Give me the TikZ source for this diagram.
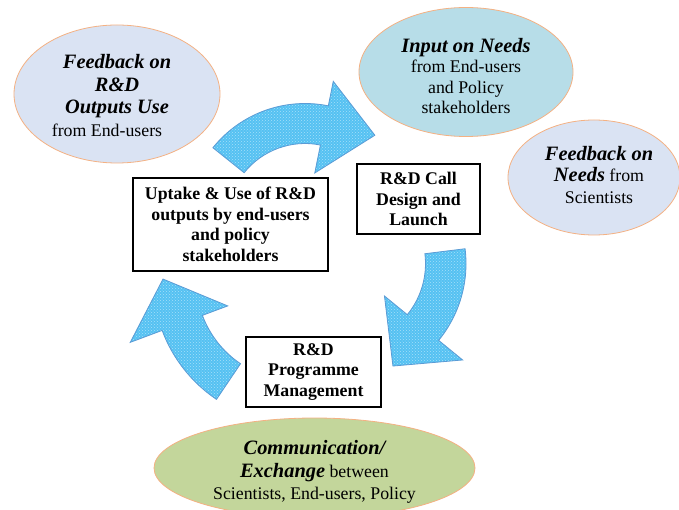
\documentclass[tikz,border=0pt]{standalone}
\usepackage{fontspec}
\setmainfont{Liberation Serif}
\usetikzlibrary{shapes.geometric,patterns,calc}
\definecolor{bluegray}{HTML}{DAE3F3}
\definecolor{aqua}{HTML}{B7DDE8}
\definecolor{olive}{HTML}{C3D69B}
\definecolor{bubbleedge}{HTML}{F4B183}
\definecolor{arrowfill}{HTML}{55C1F2}
\definecolor{arrowdots}{HTML}{A6E0FA}
\definecolor{arrowedge}{HTML}{5B9BD5}
\newcommand{\bi}[1]{{\fontsize{20.4}{21}\selectfont\bfseries\itshape #1}}
\newcommand{\circarrow}[9]{%
  \path[cyclearrow] ($(#1)+(#4:#2pt)$) arc[start angle=#4, end angle=#5, radius=#2pt]
    -- ($(#1)+(#5:#6pt)$) -- ($(#1)+(#8:#9pt)$) -- ($(#1)+(#5:#7pt)$) -- ($(#1)+(#5:#3pt)$)
    arc[start angle=#5, end angle=#4, radius=#3pt] -- cycle;}
\tikzset{
  bubble/.style={ellipse, draw=bubbleedge, line width=0.8pt, inner sep=0pt},
  bubbletext/.style={align=center, inner sep=0pt},
  boxnode/.style={draw=black, line width=1.6pt, fill=white, align=center, inner sep=0pt,
    font=\fontsize{17.8}{20.5}\selectfont\bfseries},
  cyclearrow/.style={draw=arrowedge, line width=0.8pt, preaction={fill=arrowfill},
    pattern=crosshatch dots, pattern color=arrowdots, line join=miter}
}
\begin{document}
\begin{tikzpicture}[x=1pt,y=1pt]
\useasboundingbox (0,0) rectangle (679,509);
\fill[white] (0,0) rectangle (679,509);
% bubbles
\node[bubble, fill=bluegray, minimum width=206pt, minimum height=138pt] (e1) at (117,415) {};
\node[bubble, fill=aqua, minimum width=214pt, minimum height=129pt] (e2) at (466,437) {};
\node[bubble, fill=bluegray, minimum width=172pt, minimum height=115pt] (e3) at (594,331.5) {};
\node[bubble, fill=olive, minimum width=321pt, minimum height=100pt] (e4) at (314.5,41) {};
\node[bubbletext, font=\fontsize{17.8}{22.5}\selectfont] (t1) at ([yshift=-1.5pt]e1.center)
  {\bi{Feedback on}\\ \bi{R\&D}\\ \bi{Outputs Use}\\ from End-users\hspace*{20pt}};
\node[bubbletext, font=\fontsize{17.8}{20.5}\selectfont] (t2) at ([yshift=-4pt]e2.center)
  {\bi{Input on Needs}\\ from End-users\\ and Policy\\ stakeholders};
\node[bubbletext, font=\fontsize{17.8}{21.5}\selectfont] (t3) at ([xshift=5pt,yshift=2.5pt]e3.center)
  {\bi{Feedback on}\\ \bi{Needs} from\\ Scientists};
\node[bubbletext, font=\fontsize{17.8}{22.5}\selectfont] (t4) at ([yshift=-4pt]e4.center)
  {\bi{Communication/}\\ \bi{Exchange} between\\ Scientists, End-users, Policy};
% cycle arrows
\coordinate (c1) at (305,287.5);
\coordinate (c2) at (345,245.3);
\coordinate (c3) at (297,229);
\circarrow{c1}{118}{78}{141.3}{78.6}{143}{49.5}{51}{111}
\circarrow{c2}{121}{80.5}{7.1}{-39.3}{152}{51}{-64.9}{113}
\circarrow{c3}{144}{101}{236}{200.5}{178}{74}{179.6}{134}
% boxes
\node[boxnode, minimum width=195pt, minimum height=93pt] (b1) at (230.5,284.5)
  {Uptake \& Use of R\&D\\ outputs by end-users\\ and policy\\ stakeholders};
\node[boxnode, minimum width=123pt, minimum height=70pt] (b2) at (418.5,310)
  {R\&D Call\\ Design and\\ Launch};
\node[boxnode, minimum width=135pt, minimum height=70pt] (b3) at (313.5,137)
  {R\&D\\ Programme\\ Management};
\end{tikzpicture}
\end{document}
